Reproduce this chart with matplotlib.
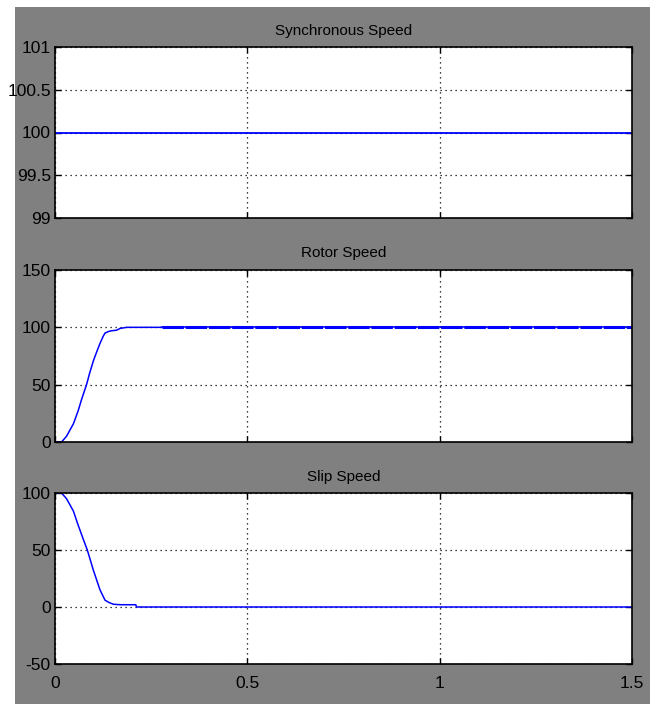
import matplotlib
matplotlib.use('Agg')
import matplotlib.pyplot as plt
from matplotlib.patches import Rectangle

plt.rcParams['font.family'] = ['Liberation Sans', 'DejaVu Sans']

# synchronous speed
t_sync = [0.0, 1.5]
sync_speed = [100, 100]

# rotor speed (start-up, then steady with small ripple)
t_rotor = [0.0, 0.017, 0.03, 0.048, 0.06, 0.069, 0.082, 0.09, 0.1, 0.11,
           0.117, 0.125, 0.13, 0.14, 0.147, 0.16, 0.169, 0.186, 0.277]
rotor_speed = [0, 0, 5, 16, 27, 37, 50, 60, 71, 80,
               86, 92, 95, 96.5, 97, 97.5, 99, 100, 100]
t_steady = [0.277, 1.5]
rotor_steady = [100, 100]

# slip speed
t_slip = [0.0, 0.017, 0.03, 0.048, 0.06, 0.074, 0.084, 0.1, 0.117, 0.13,
          0.14, 0.152, 0.17, 0.19, 0.21, 0.212, 1.5]
slip_speed = [100, 100, 95, 84, 72, 59, 50, 32, 15, 6,
              4, 2.4, 2, 2, 2, 0, 0]

titles = ['Synchronous Speed', 'Rotor Speed', 'Slip Speed']
yticks = [[99, 99.5, 100, 100.5, 101], [0, 50, 100, 150], [-50, 0, 50, 100]]
ytick_labels = [['99', '99.5', '100', '100.5', '101'],
                ['0', '50', '100', '150'],
                ['-50', '0', '50', '100']]
xticks = [0, 0.5, 1, 1.5]
xtick_labels = ['0', '0.5', '1', '1.5']

W, H = 658, 704
fig = plt.figure(figsize=(W / 100, H / 100), dpi=100)
fig.patch.set_facecolor('white')
fig.patches.append(Rectangle((15 / W, 0), 635 / W, 697 / H, transform=fig.transFigure,
                             facecolor='#808080', edgecolor='none', zorder=-10))

# axes boxes in pixels: (top, bottom)
boxes = [(47, 218), (270, 442), (493, 664)]
left, right = 55, 632
axes = []
for top, bot in boxes:
    ax = fig.add_axes([left / W, (H - bot) / H, (right - left) / W, (bot - top) / H])
    axes.append(ax)

blue = '#0000ff'
axes[0].plot(t_sync, sync_speed, color=blue, lw=1.3)
axes[1].plot(t_rotor, rotor_speed, color=blue, lw=1.1)
axes[1].plot(t_steady, rotor_steady, color=blue, lw=1.1)
axes[1].plot(t_steady, rotor_steady, color=blue, lw=2.2, dashes=(7, 0.6))
axes[2].plot(t_slip, slip_speed, color=blue, lw=1.1)

for i, ax in enumerate(axes):
    ax.set_facecolor('white')
    ax.set_xlim(0, 1.5)
    ax.set_ylim(yticks[i][0], yticks[i][-1])
    ax.set_yticks(yticks[i])
    ax.set_yticklabels(ytick_labels[i], fontsize=12.5)
    ax.set_xticks(xticks)
    if i == 2:
        ax.set_xticklabels(xtick_labels, fontsize=12.5)
    else:
        ax.set_xticklabels([])
    ax.tick_params(direction='in', length=4, width=1, top=True, right=True,
                   colors='black', pad=3)
    ax.tick_params(axis='x', pad=9)
    ax.grid(True, color='black', linestyle=(0, (1, 3)), lw=0.9)
    for sp in ax.spines.values():
        sp.set_linewidth(1.2)
        sp.set_color('black')
    ax.set_title(titles[i], fontsize=11, pad=9)

fig.savefig('out.png', dpi=100)
